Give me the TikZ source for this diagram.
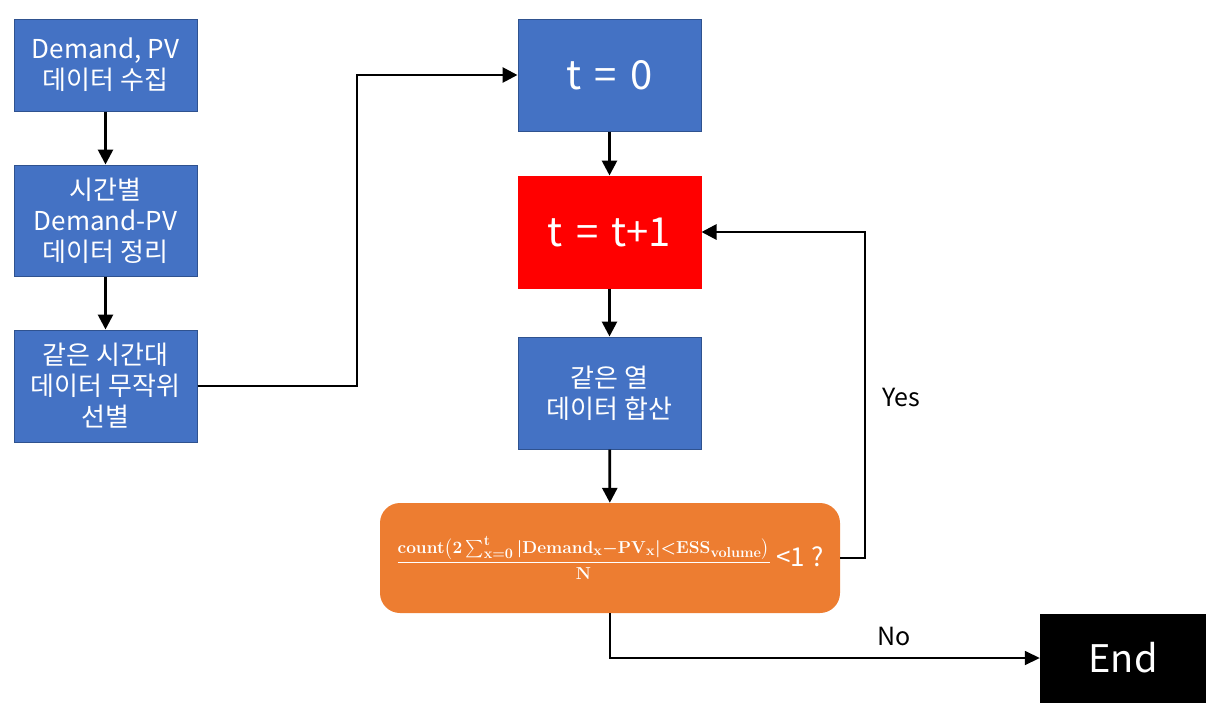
\documentclass[tikz,border=0pt]{standalone}
\usepackage[no-math]{fontspec}
\setmainfont{Noto Sans CJK KR}
\usepackage{amsmath}
\DeclareMathSizes{18}{18}{14}{11}
\usetikzlibrary{arrows.meta, positioning, calc}
\definecolor{boxblue}{HTML}{4472C4}
\definecolor{boxedge}{HTML}{2F528F}
\definecolor{condorange}{HTML}{ED7D31}
\tikzset{
  stepbox/.style={rectangle, fill=boxblue, draw=boxedge, line width=1pt, text=white,
    minimum width=183pt, minimum height=112pt, align=center, inner sep=0pt,
    font=\fontsize{26}{31}\selectfont},
  arr/.style={-{Triangle[length=15pt, width=15pt]}, line width=2.8pt},
  thinarr/.style={-{Triangle[length=15pt, width=14pt]}, line width=1.6pt},
  lbl/.style={font=\fontsize{25}{28}\selectfont}
}
\begin{document}
\begin{tikzpicture}[x=1pt, y=-1pt]
      \useasboundingbox (0,0) rectangle (1216,713);

      \node[stepbox, minimum height=92pt] (collect) at (105.5, 65) {Demand, PV\\데이터 수집};
      \node[stepbox, minimum height=111pt] (sortdata) at (105.5, 220.5) {시간별\\Demand-PV\\데이터 정리};
      \node[stepbox] (pick) at (105.5, 386) {같은 시간대\\데이터 무작위\\선별};

      \node[stepbox, font=\fontsize{40}{44}\selectfont] (tzero) at (609.5, 75) {t\,\,=\,\,0};
      \node[stepbox, fill=red, draw=red, font=\fontsize{40}{44}\selectfont] (tinc) at (609.5, 232) {t\,\,=\,\,t+1};
      \node[stepbox] (colsum) at (609.5, 393) {같은 열\\데이터 합산};

      \node[rectangle, rounded corners=20pt, fill=condorange, text=white, minimum width=460pt,
        minimum height=110pt, inner sep=0pt, font=\fontsize{26}{30}\selectfont] (cond) at (610, 558)
        {{\boldmath\fontsize{18}{22}\selectfont$\dfrac{\mathbf{count}\bigl(2\textstyle\sum_{\mathbf{x=0}}^{\mathbf{t}}|\mathbf{Demand}_{\mathbf{x}}{-}\mathbf{PV}_{\mathbf{x}}|{<}\mathbf{ESS}_{\mathbf{volume}}\bigr)}{\mathbf{N}}$} {<}1 ?};

      \node[rectangle, fill=black, text=white, minimum width=166pt, minimum height=89pt,
        inner sep=0pt, font=\fontsize{38}{40}\selectfont] (fin) at (1123, 658) {End};

      \coordinate (bendtop) at (357, 75);
      \coordinate (bendyes) at (865, 232);

      \draw[arr] (collect) -- (sortdata);
      \draw[arr] (sortdata) -- (pick);
      \draw[arr] (pick.east) -| (bendtop) -- (tzero.west);
      \draw[arr] (tzero) -- (tinc);
      \draw[arr] (tinc) -- (colsum);
      \draw[arr] (colsum) -- (cond);
      \draw[arr] (cond.east) -| (bendyes) -- (tinc.east);
      \draw[thinarr] (cond.south) |- (fin.west);

      \node[lbl] (yes) at (901, 397) {Yes};
      \node[lbl] (no) at (894, 636) {No};

    \end{tikzpicture}
\end{document}
